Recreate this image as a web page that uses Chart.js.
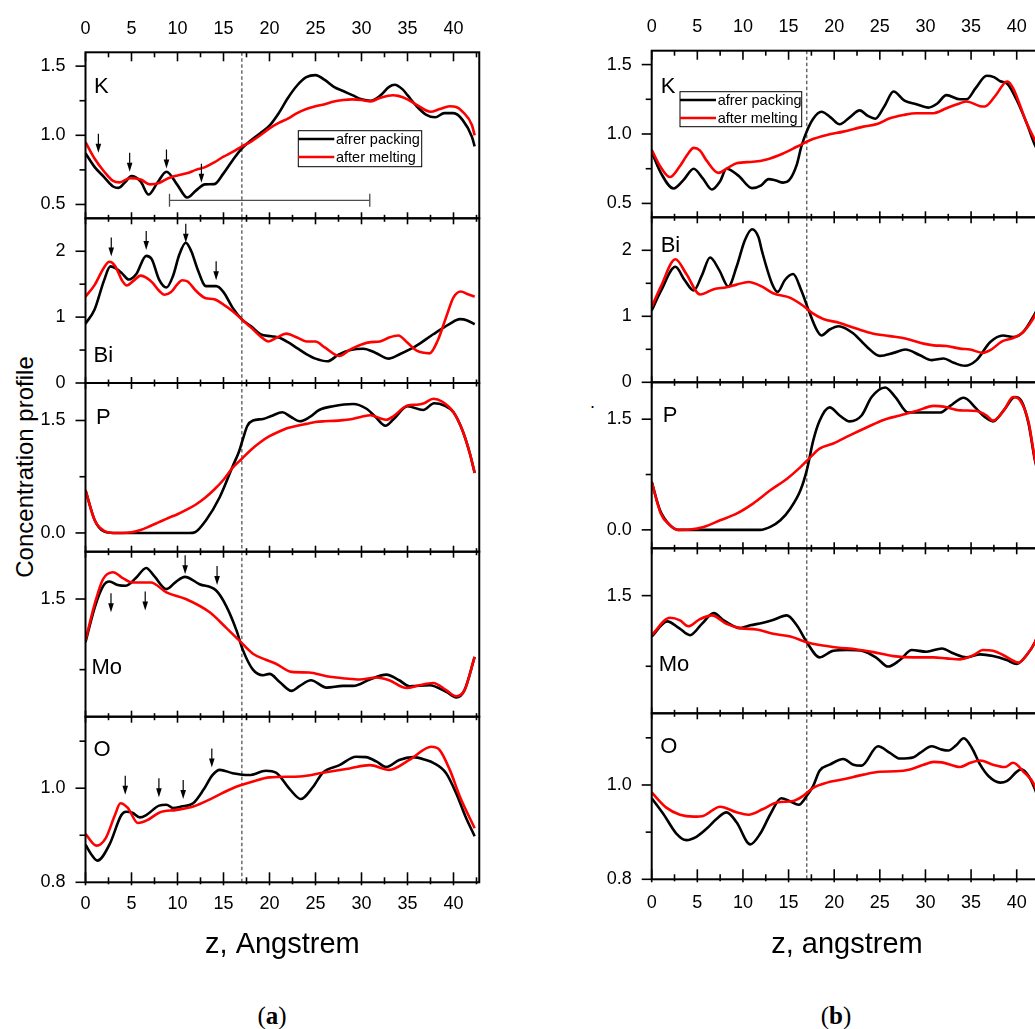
<!DOCTYPE html>
<html>
<head>
<meta charset="utf-8">
<script src="https://cdn.jsdelivr.net/npm/chart.js@4.4.1/dist/chart.umd.min.js"></script>
<style>
  html, body { margin: 0; padding: 0; background: #fff; }
  body { width: 1035px; height: 1029px; position: relative; overflow: hidden;
         font-family: "Liberation Sans", Arial, Helvetica, sans-serif; color: #000; }
  canvas { position: absolute; }
  .ytitle { position: absolute; left: 25px; top: 467px; transform: translate(-50%, -50%) rotate(-90deg);
            font-size: 24px; white-space: nowrap; }
  .cap { position: absolute; top: 1016px; transform: translate(-50%, -50%);
         font-family: "Liberation Serif", "DejaVu Serif", serif; font-size: 25px; white-space: nowrap; }
  .dot { position: absolute; left: 590px; top: 393px; font-size: 18px; line-height: 18px; }
</style>
</head>
<body>
<div class="ytitle">Concentration profile</div>
<div class="cap" style="left:272px">(<b>a</b>)</div>
<div class="cap" style="left:836px">(<b>b</b>)</div>
<span class="dot">.</span>
<script>
// ---------- axis ticks ----------
const zTicks = [0, 5, 10, 15, 20, 25, 30, 35, 40];
const zMinorTicks = [2.5, 7.5, 12.5, 17.5, 22.5, 27.5, 32.5, 37.5, 42.5];
const zMarker = 17;

const kTicks = [0.5, 1.0, 1.5],  kMinorTicks = [0.75, 1.25];
const biTicks = [0, 1, 2],       biMinorTicks = [0.5, 1.5];
const pTicks = [0.0, 1.5],       pMinorTicks = [0.75];
const moTicks = [1.5],           moMinorTicks = [1.0];
const oTicks = [0.8, 1.0],       oMinorTicks = [0.9, 1.1];

// ---------- (a) profiles: [z, value] ----------
const kPackA = [[0,0.87],[1,0.77],[2,0.70],[3,0.63],[3.6,0.62],[4.3,0.66],[5,0.705],[6,0.665],[6.85,0.572],[7.8,0.655],[8.8,0.737],[10,0.64],[11.05,0.55],[12,0.60],[13,0.645],[14,0.647],[15,0.725],[16,0.82],[17,0.905],[18,0.965],[19,1.015],[20,1.07],[21,1.16],[22,1.27],[23,1.36],[24,1.42],[25,1.435],[26,1.40],[27,1.35],[28,1.32],[29,1.29],[30,1.26],[31,1.25],[32,1.285],[33,1.35],[33.6,1.365],[34.5,1.33],[35,1.29],[36,1.21],[37,1.15],[38,1.13],[39,1.16],[40,1.16],[41,1.11],[42,0.99],[42.3,0.92]];
const kMeltA = [[0,0.95],[1,0.83],[2,0.74],[3,0.67],[3.7,0.66],[4.8,0.69],[6,0.68],[7,0.645],[8,0.655],[9,0.69],[10,0.71],[11,0.725],[12,0.75],[13,0.77],[14,0.805],[15,0.845],[16,0.88],[17,0.92],[18,0.955],[19,1.0],[20,1.05],[21,1.09],[22,1.12],[23,1.16],[24,1.19],[25,1.21],[26,1.225],[27,1.245],[28,1.255],[29,1.26],[30,1.255],[31,1.245],[32,1.27],[33.4,1.29],[34,1.285],[35,1.26],[36,1.22],[37.5,1.17],[38.5,1.19],[39.6,1.21],[40.3,1.205],[41,1.17],[42,1.075],[42.3,1.0]];

const biPackA = [[0,0.90],[1,1.12],[2,1.55],[2.7,1.77],[3.3,1.74],[4,1.66],[4.7,1.57],[5.5,1.65],[6.6,1.93],[7.2,1.88],[8,1.57],[8.8,1.45],[9.5,1.62],[10.2,1.95],[10.9,2.13],[11.5,2.0],[12.2,1.72],[13.1,1.47],[14.2,1.47],[15,1.38],[16,1.14],[17,0.965],[18,0.86],[19,0.74],[20.2,0.71],[21,0.69],[22,0.62],[23,0.53],[24,0.44],[25,0.37],[26.3,0.33],[27.5,0.43],[28.8,0.50],[30.2,0.52],[31.5,0.46],[33,0.37],[34.2,0.44],[35.9,0.56],[37.8,0.74],[39.5,0.89],[40.7,0.97],[41.5,0.95],[42.3,0.89]];
const biMeltA = [[0,1.31],[1,1.49],[2,1.75],[2.6,1.84],[3.2,1.78],[4,1.55],[4.5,1.48],[5.2,1.55],[6,1.63],[6.6,1.60],[7.3,1.52],[8,1.40],[8.6,1.34],[9.3,1.38],[10,1.50],[10.5,1.56],[11.1,1.54],[12,1.40],[13,1.29],[14,1.27],[15,1.19],[16,1.09],[17,0.965],[18,0.84],[19,0.71],[19.9,0.63],[20.8,0.69],[21.8,0.75],[23,0.69],[24,0.63],[25,0.63],[26,0.54],[27.6,0.41],[28.8,0.51],[30,0.585],[31,0.62],[32,0.63],[33,0.69],[34,0.72],[35,0.61],[36,0.49],[37.4,0.45],[38.3,0.65],[39.2,1.0],[40,1.30],[40.8,1.39],[41.5,1.35],[42.3,1.31]];

const pPackA = [[0,0.57],[1,0.17],[2,0.02],[3,0],[6,0],[9,0],[11.3,0],[11.9,0.01],[13.1,0.17],[14.6,0.48],[16,0.89],[16.7,1.09],[17.1,1.25],[17.6,1.43],[18.2,1.50],[19.3,1.52],[20.2,1.56],[21.4,1.61],[22.3,1.55],[23.3,1.49],[24.3,1.54],[25.4,1.64],[26.9,1.69],[29.1,1.72],[30.5,1.66],[31.5,1.55],[32.6,1.43],[33.5,1.52],[35,1.69],[36.7,1.64],[37.9,1.73],[39,1.70],[40,1.61],[41,1.36],[41.8,1.05],[42.3,0.80]];
const pMeltA = [[0,0.57],[1,0.17],[2,0.03],[3,0],[4,0],[5,0.01],[6,0.04],[7,0.09],[8,0.145],[9,0.20],[10,0.25],[11,0.31],[12,0.38],[13,0.47],[14,0.58],[15,0.71],[16,0.87],[17,0.99],[18,1.11],[19,1.21],[20,1.29],[21,1.35],[22,1.40],[23,1.43],[24,1.455],[25,1.48],[26,1.49],[27,1.495],[28,1.505],[29,1.52],[30,1.55],[31,1.57],[32,1.53],[32.7,1.51],[33.5,1.56],[35,1.70],[36,1.71],[36.8,1.73],[37.8,1.79],[38.8,1.75],[40,1.61],[41,1.36],[41.8,1.05],[42.3,0.80]];

const moPackA = [[0,1.195],[1,1.44],[1.9,1.59],[2.6,1.624],[3.5,1.60],[4.4,1.594],[5.5,1.65],[6.6,1.72],[7.5,1.66],[8.8,1.57],[9.8,1.62],[10.8,1.657],[12.4,1.605],[14.2,1.56],[15.3,1.45],[16.4,1.28],[17.1,1.14],[18.2,1.0],[19.3,0.96],[20,0.97],[21.1,0.913],[22.4,0.85],[23.3,0.885],[24.5,0.925],[26.2,0.873],[28,0.885],[29.1,0.885],[30.9,0.93],[32.7,0.965],[34.1,0.925],[35.2,0.883],[37.4,0.89],[39.2,0.843],[40.3,0.803],[41.2,0.855],[42.3,1.09]];
const moMeltA = [[0,1.206],[1,1.465],[1.9,1.64],[3,1.69],[4,1.65],[5.1,1.617],[7.1,1.617],[8.8,1.547],[10.9,1.50],[13.5,1.406],[15.3,1.296],[16.7,1.207],[18.2,1.113],[19.6,1.07],[20.7,1.042],[22.4,0.984],[24.3,0.98],[26.2,0.953],[28.3,0.937],[29.8,0.93],[31.6,0.944],[33,0.925],[34.9,0.87],[36.3,0.89],[37.8,0.906],[39.2,0.855],[40.3,0.812],[41.2,0.855],[42.3,1.09]];

const oPackA = [[0,0.88],[0.6,0.86],[1.3,0.846],[2.6,0.88],[3.9,0.943],[4.4,0.95],[5.1,0.948],[5.9,0.938],[6.6,0.943],[8,0.963],[8.8,0.965],[9.5,0.958],[10.4,0.961],[11.7,0.968],[12.8,0.996],[13.8,1.028],[14.6,1.039],[16,1.032],[17.8,1.028],[19.6,1.037],[20.7,1.033],[22.2,0.998],[23.4,0.977],[24.7,1.002],[25.8,1.033],[27.6,1.049],[29.4,1.067],[30.5,1.066],[31.6,1.057],[32.7,1.045],[34.1,1.06],[35.6,1.066],[37,1.06],[37.8,1.054],[39.2,1.032],[40.3,0.989],[41.3,0.94],[42.3,0.898]];
const oMeltA = [[0,0.903],[1.2,0.878],[2.2,0.894],[3.2,0.943],[3.8,0.968],[4.6,0.958],[5.7,0.926],[6.8,0.933],[8,0.948],[9.9,0.954],[11.7,0.961],[13.8,0.979],[16,1.0],[18.2,1.014],[20,1.023],[23.3,1.025],[25.8,1.033],[28.7,1.042],[30.9,1.049],[33,1.039],[35.2,1.06],[37.6,1.088],[38.5,1.081],[39.6,1.039],[40.7,0.982],[42.3,0.915]];

// ---------- (b) profiles: [z, value] ----------
const kPackB = [[0,0.87],[1,0.72],[2.4,0.607],[3.5,0.67],[4.6,0.75],[5.6,0.68],[6.6,0.60],[7.5,0.66],[8.2,0.75],[9.5,0.70],[11,0.61],[12,0.63],[12.8,0.675],[13.6,0.665],[14.4,0.65],[15.1,0.67],[15.9,0.78],[16.4,0.91],[17,1.02],[17.7,1.11],[18.6,1.16],[19.6,1.12],[20.6,1.07],[21.7,1.12],[22.8,1.17],[23.7,1.13],[24.5,1.11],[25.5,1.2],[26.5,1.306],[27.7,1.24],[29,1.215],[30.3,1.19],[31.3,1.22],[32.3,1.28],[33.8,1.25],[34.5,1.25],[35.5,1.33],[36.7,1.42],[37.5,1.41],[38.2,1.38],[39,1.36],[40,1.245],[41.1,1.077],[42,0.92],[42.3,0.88]];
const kMeltB = [[0,0.885],[1,0.76],[2,0.69],[3,0.76],[4,0.86],[4.6,0.90],[5.3,0.88],[6,0.81],[7.3,0.72],[8.2,0.75],[9.3,0.79],[11.1,0.80],[12.6,0.817],[14.4,0.86],[15.9,0.908],[17.4,0.957],[19.2,0.993],[21,1.017],[23.2,1.053],[24.7,1.072],[26.1,1.113],[27.6,1.137],[29,1.15],[30.9,1.15],[32.3,1.186],[33.8,1.222],[34.5,1.234],[36,1.20],[36.5,1.198],[37.6,1.27],[38.7,1.37],[39,1.378],[39.6,1.33],[40.4,1.20],[41.1,1.077],[42,0.957],[42.3,0.92]];

const biPackB = [[0,1.09],[1,1.38],[2.6,1.75],[3.6,1.55],[4.6,1.39],[5.5,1.62],[6.4,1.89],[7.4,1.70],[8.4,1.45],[9.3,1.75],[10.2,2.15],[11,2.32],[11.7,2.2],[12.1,1.98],[13.2,1.49],[13.8,1.37],[14.6,1.55],[15.5,1.64],[16.4,1.39],[17.2,1.09],[18.1,0.79],[18.6,0.71],[19.5,0.80],[20.5,0.85],[22.1,0.74],[23.6,0.536],[25,0.40],[26.5,0.446],[27.8,0.496],[29.4,0.41],[30.7,0.336],[32,0.36],[33.1,0.296],[34.3,0.25],[35.6,0.336],[37.1,0.61],[38.5,0.71],[39.6,0.687],[40.7,0.76],[42,1.04],[42.3,1.12]];
const biMeltB = [[0,1.14],[1,1.45],[2.6,1.865],[3.8,1.64],[5.3,1.33],[6.8,1.41],[8.2,1.44],[9.3,1.48],[10.6,1.52],[12.1,1.45],[13.3,1.35],[15.2,1.28],[16.6,1.16],[17.7,1.04],[18.8,0.96],[20.6,0.90],[22.5,0.81],[24.3,0.737],[26.1,0.70],[27.9,0.66],[29.8,0.586],[30.9,0.56],[32.3,0.55],[33.8,0.51],[34.9,0.496],[36.3,0.446],[37.1,0.486],[38.4,0.62],[39.6,0.67],[40.7,0.76],[42,1.01],[42.3,1.1]];

const pPackB = [[0,0.65],[0.9,0.27],[2,0.063],[2.9,0],[6,0],[9,0],[11.9,0],[13,0.04],[14.1,0.13],[15.2,0.29],[16.3,0.536],[17,0.81],[17.7,1.21],[18.4,1.48],[19.5,1.66],[20.6,1.55],[21.7,1.47],[23,1.55],[24.1,1.80],[25.6,1.93],[26.7,1.80],[28.1,1.59],[29.8,1.59],[31.6,1.59],[32.7,1.68],[34.2,1.79],[35.6,1.64],[36.5,1.53],[37.4,1.47],[38.7,1.64],[39.8,1.80],[40.5,1.75],[41.3,1.44],[42,0.94],[42.3,0.8]];
const pMeltB = [[0,0.65],[1,0.22],[2,0.063],[2.9,0],[4.2,0.005],[5.7,0.04],[7.5,0.13],[9.3,0.22],[11.1,0.356],[13,0.536],[14.8,0.69],[16.3,0.85],[17.4,0.986],[18.4,1.10],[19.9,1.17],[21.7,1.28],[23.6,1.39],[25.4,1.49],[27.2,1.55],[29,1.61],[30.9,1.68],[32,1.67],[33.8,1.62],[35.6,1.61],[36.7,1.55],[37.4,1.48],[38.6,1.62],[39.6,1.80],[40.4,1.75],[41.3,1.46],[42,0.96],[42.3,0.82]];

const moPackB = [[0,1.21],[1.7,1.318],[3,1.27],[4.2,1.22],[5.5,1.30],[6.8,1.376],[7.9,1.325],[9.7,1.27],[10.8,1.29],[12.1,1.306],[13.2,1.325],[14.8,1.36],[15.9,1.29],[17,1.17],[18.4,1.063],[19.9,1.11],[21.4,1.115],[23.2,1.107],[24.7,1.056],[25.9,0.998],[27.2,1.044],[28.5,1.115],[30.1,1.103],[31.8,1.126],[33.1,1.09],[34.5,1.063],[36,1.084],[37.4,1.072],[38.9,1.044],[40,1.016],[41.1,1.08],[42,1.17],[42.3,1.22]];
const moMeltB = [[0,1.22],[2,1.343],[3.1,1.325],[4,1.283],[5.2,1.33],[6.6,1.36],[8.2,1.30],[9.7,1.27],[11.5,1.26],[13.3,1.23],[15.2,1.21],[17,1.17],[18.4,1.15],[20.3,1.133],[22.5,1.119],[24.3,1.10],[26.5,1.072],[28.7,1.063],[30.9,1.063],[32.3,1.056],[33.8,1.049],[35.3,1.08],[36.3,1.115],[37.4,1.11],[38.5,1.08],[40.2,1.026],[41.1,1.08],[42,1.17],[42.3,1.22]];

const oPackB = [[0,0.972],[1.3,0.938],[2.7,0.897],[3.8,0.883],[4.9,0.89],[6,0.907],[7.1,0.928],[8.2,0.942],[9.3,0.921],[10.8,0.874],[11.9,0.897],[13,0.938],[14.2,0.972],[15.2,0.965],[16.1,0.958],[17,0.977],[17.7,0.998],[18.4,1.03],[19.5,1.043],[21,1.055],[22.1,1.043],[23,1.041],[24.8,1.082],[26.1,1.068],[27.2,1.056],[28.7,1.059],[29.4,1.068],[30.7,1.082],[31.8,1.075],[32.5,1.073],[33.4,1.085],[34.2,1.099],[35.1,1.078],[36,1.043],[36.9,1.019],[38.2,1.005],[38.9,1.008],[40.5,1.033],[41.3,1.019],[42,0.991],[42.3,0.975]];
const oMeltB = [[0,0.984],[1.6,0.952],[3.1,0.937],[4.6,0.933],[5.7,0.935],[7.5,0.954],[9.3,0.942],[10.6,0.937],[12.2,0.949],[13.7,0.963],[15.5,0.966],[16.6,0.977],[17.7,0.994],[19.2,1.005],[21,1.012],[23.2,1.022],[25,1.028],[26.8,1.029],[28.3,1.033],[29.8,1.043],[30.9,1.049],[31.8,1.048],[33.8,1.038],[34.9,1.047],[36,1.052],[37.4,1.043],[38.7,1.038],[39.6,1.047],[40.7,1.029],[42,0.998],[42.3,0.98]];

// ---------- annotations for (a): arrow tips [z, value] and the span bar ----------
const kArrowsA  = [[1.4,0.874],[4.8,0.737],[8.8,0.76],[12.6,0.657]];
const biArrowsA = [[2.8,1.92],[6.6,2.02],[10.9,2.13],[14.2,1.56]];
const moArrowsA = [[2.77,1.406],[6.49,1.418],[10.83,1.676],[14.3,1.60]];
const oArrowsA  = [[4.32,0.986],[7.98,0.981],[10.62,0.977],[13.73,1.044]];
const spanA = [[9.13,0.53],[30.9,0.53]];

const seriesLabels = ['afrer packing', 'after melting'];

// ---------- layout ----------
const FONT = '"Liberation Sans", Arial, Helvetica, sans-serif';
Chart.defaults.font.family = FONT;
Chart.defaults.color = '#000';

const yK  = { min: 0.4,   max: 1.6,   major: kTicks,  minor: kMinorTicks,  dec: 1 };
const yBi = { min: 0,     max: 2.5,   major: biTicks, minor: biMinorTicks, dec: 0 };
const yP  = { min: -0.25, max: 2.0,   major: pTicks,  minor: pMinorTicks,  dec: 1 };
const yMo = { min: 0.667, max: 1.835, major: moTicks, minor: moMinorTicks, dec: 1 };
const yO  = { min: 0.8,   max: 1.152, major: oTicks,  minor: oMinorTicks,  dec: 1 };

const columns = [
  { canvasLeft: 0, canvasWidth: 490, frameLeft: 85.5, unit: 9.2,
    edges: [52.3, 218.3, 383, 551.7, 716.7, 882.3], topPad: 12.5, botPad: 10.9, titleGap: 62.7,
    xTitle: 'z, Angstrem',
    panels: [
      { label: 'K',  lx: 8.5, ly: 41,    pack: kPackA,  melt: kMeltA,  y: yK,  arrows: kArrowsA,
        legend: { x: 212.8, y: 78.4, w: 123.4, h: 36 }, span: spanA },
      { label: 'Bi', lx: 8,   ly: 143.4, pack: biPackA, melt: biMeltA, y: yBi, arrows: biArrowsA },
      { label: 'P',  lx: 10.5, ly: 41.3, pack: pPackA,  melt: pMeltA,  y: yP },
      { label: 'Mo', lx: 6,   ly: 122.6, pack: moPackA, melt: moMeltA, y: yMo, arrows: moArrowsA },
      { label: 'O',  lx: 8,   ly: 39,    pack: oPackA,  melt: oMeltA,  y: yO,  arrows: oArrowsA }
    ] },
  { canvasLeft: 560, canvasWidth: 500, frameLeft: 651.7, unit: 9.125,
    edges: [50.7, 217.3, 382.3, 548.3, 713.3, 879.3], topPad: 12.9, botPad: 13.2, titleGap: 65.7,
    xTitle: 'z, angstrem',
    panels: [
      { label: 'K',  lx: 9,   ly: 42,    pack: kPackB,  melt: kMeltB,  y: yK,
        legend: { x: 28.3, y: 41, w: 121.7, h: 35 } },
      { label: 'Bi', lx: 9,   ly: 35,    pack: biPackB, melt: biMeltB, y: yBi },
      { label: 'P',  lx: 11,  ly: 40,    pack: pPackB,  melt: pMeltB,  y: yP },
      { label: 'Mo', lx: 7,   ly: 122.7, pack: moPackB, melt: moMeltB, y: yMo },
      { label: 'O',  lx: 8.5, ly: 39.4,  pack: oPackB,  melt: oMeltB,  y: yO }
    ] }
];

const Z_MAX = 42.8;
const MARGIN = 40;   // room above/below each frame for the edge value labels
const toXY = pts => pts.map(([x, y]) => ({ x, y }));

// frame, ticks, arrows, element label and legend drawn from the chart's own scales
const panelDecor = {
  id: 'panelDecor',
  beforeDatasetsDraw(chart, args, o) {
    const { ctx, chartArea: a } = chart;
    const xd = chart.scales.x.getPixelForValue(o.marker);
    ctx.save();
    ctx.strokeStyle = '#222';
    ctx.lineWidth = 1;
    ctx.setLineDash([3.5, 2.5]);
    ctx.beginPath(); ctx.moveTo(xd, a.top); ctx.lineTo(xd, a.bottom); ctx.stroke();
    ctx.restore();
  },
  afterDatasetsDraw(chart, args, o) {
    const { ctx, chartArea: a } = chart;
    const xs = chart.scales.x, ys = chart.scales.y;
    const seg = (x1, y1, x2, y2) => { ctx.beginPath(); ctx.moveTo(x1, y1); ctx.lineTo(x2, y2); ctx.stroke(); };
    ctx.save();
    ctx.strokeStyle = '#000';
    ctx.fillStyle = '#000';

    // arrows pointing down at features
    ctx.lineWidth = 1.2;
    (o.arrows || []).forEach(([vx, vy]) => {
      const px = xs.getPixelForValue(vx), py = ys.getPixelForValue(vy);
      seg(px, py - 19, px, py - 7);
      ctx.beginPath();
      ctx.moveTo(px - 2.8, py - 9); ctx.lineTo(px + 2.8, py - 9); ctx.lineTo(px, py);
      ctx.closePath(); ctx.fill();
    });

    // frame
    ctx.lineWidth = 2;
    ctx.strokeRect(a.left, a.top, a.width, a.height);

    // z ticks on top and bottom edges
    ctx.lineWidth = 1.6;
    const zt = (vals, lt, lb, out) => vals.forEach(v => {
      const px = xs.getPixelForValue(v);
      seg(px, a.top, px, a.top + lt);
      seg(px, a.bottom + out, px, a.bottom - lb);
    });
    zt(o.xMajor, o.first ? 9 : 6, o.last ? 10 : 6, o.last ? 3 : 0);
    zt(o.xMinor, o.first ? 5 : 3.5, o.last ? 5 : 3.5, o.last ? 2 : 0);

    // value ticks (outside)
    o.yMajor.forEach(v => { const py = ys.getPixelForValue(v); seg(a.left - 10, py, a.left, py); });
    o.yMinor.forEach(v => { const py = ys.getPixelForValue(v); seg(a.left - 6, py, a.left, py); });

    // element label
    ctx.font = '22px ' + FONT;
    ctx.textAlign = 'left';
    ctx.textBaseline = 'alphabetic';
    ctx.fillText(o.label, a.left + o.lx, a.top + o.ly);

    // legend box
    if (o.legend) {
      const L = o.legend, bx = a.left + L.x, by = a.top + L.y;
      ctx.fillStyle = '#fff';
      ctx.fillRect(bx, by, L.w, L.h);
      ctx.strokeStyle = '#000';
      ctx.lineWidth = 1;
      ctx.strokeRect(bx, by, L.w, L.h);
      ctx.font = '14.5px ' + FONT;
      ctx.textBaseline = 'middle';
      const rows = [8.3, 26.3];
      chart.data.datasets.filter(d => d.legendRow !== undefined).forEach(d => {
        const ry = by + rows[d.legendRow];
        ctx.strokeStyle = d.borderColor;
        ctx.lineWidth = 2.6;
        seg(bx, ry, bx + 36, ry);
        ctx.fillStyle = '#000';
        ctx.fillText(d.label, bx + 37.7, ry + 0.5);
      });
    }
    ctx.restore();
  }
};

columns.forEach(col => {
  const areaW = Z_MAX * col.unit;
  const yW = col.frameLeft - col.canvasLeft;
  const padRight = col.canvasWidth - yW - areaW;
  const xTitleH = col.titleGap + 29 * 1.2 / 2;

  col.panels.forEach((p, i) => {
    const first = i === 0, last = i === col.panels.length - 1;
    const T = col.edges[i], B = col.edges[i + 1];
    const canvasTop = first ? 0 : Math.floor(T) - MARGIN;
    const padTop = first ? 0 : T - canvasTop;
    const below = last ? xTitleH : 0;
    const canvasH = Math.ceil(B - canvasTop + below) + MARGIN;
    const padBottom = canvasH - (B - canvasTop) - below;

    const cv = document.createElement('canvas');
    cv.width = col.canvasWidth;
    cv.height = canvasH;
    cv.style.left = col.canvasLeft + 'px';
    cv.style.top = canvasTop + 'px';
    cv.style.width = col.canvasWidth + 'px';
    cv.style.height = canvasH + 'px';
    document.body.appendChild(cv);

    const datasets = [
      { label: seriesLabels[0], data: toXY(p.pack), borderColor: '#000000', order: 1, legendRow: p.legend ? 0 : undefined },
      { label: seriesLabels[1], data: toXY(p.melt), borderColor: '#ff0000', order: 0, legendRow: p.legend ? 1 : undefined }
    ].map(d => Object.assign(d, { borderWidth: 2.6, pointRadius: 0, fill: false, cubicInterpolationMode: 'monotone' }));

    if (p.span) {
      datasets.push({ label: 'span', data: toXY(p.span), borderColor: '#4d4d4d', borderWidth: 1.3,
        pointStyle: 'line', pointRotation: 90, pointRadius: 6.5, pointBorderColor: '#4d4d4d',
        pointBorderWidth: 1.3, tension: 0, fill: false, order: 2 });
    }

    new Chart(cv, {
      type: 'line',
      data: { datasets },
      plugins: [panelDecor],
      options: {
        responsive: false,
        devicePixelRatio: 1,
        animation: false,
        events: [],
        layout: { autoPadding: false, padding: { left: 0, right: padRight, top: padTop, bottom: padBottom } },
        scales: {
          x: {
            type: 'linear', min: 0, max: Z_MAX,
            display: first || last,
            position: first ? 'top' : 'bottom',
            grid: { display: false, drawTicks: false },
            border: { display: false },
            ticks: { font: { size: 18 }, color: '#000', padding: first ? col.topPad : col.botPad,
                     autoSkip: false, maxRotation: 0, callback: v => String(v) },
            afterBuildTicks: s => { s.ticks = zTicks.map(v => ({ value: v })); },
            afterFit: s => { s.height = first ? T : (last ? xTitleH : 0); },
            title: last ? { display: true, text: col.xTitle, font: { size: 29 }, color: '#000', padding: 0 }
                        : { display: false }
          },
          y: {
            type: 'linear', min: p.y.min, max: p.y.max,
            grid: { display: false, drawTicks: false },
            border: { display: false },
            ticks: { font: { size: 18 }, color: '#000', padding: 20, autoSkip: false,
                     callback: v => Number(v).toFixed(p.y.dec) },
            afterBuildTicks: s => { s.ticks = p.y.major.map(v => ({ value: v })); },
            afterFit: s => { s.width = yW; }
          }
        },
        plugins: {
          legend: { display: false },
          tooltip: { enabled: false },
          panelDecor: {
            marker: zMarker, first, last, label: p.label, lx: p.lx, ly: p.ly,
            arrows: p.arrows, legend: p.legend,
            xMajor: zTicks, xMinor: zMinorTicks, yMajor: p.y.major, yMinor: p.y.minor
          }
        }
      }
    });
  });
});
</script>
</body>
</html>
